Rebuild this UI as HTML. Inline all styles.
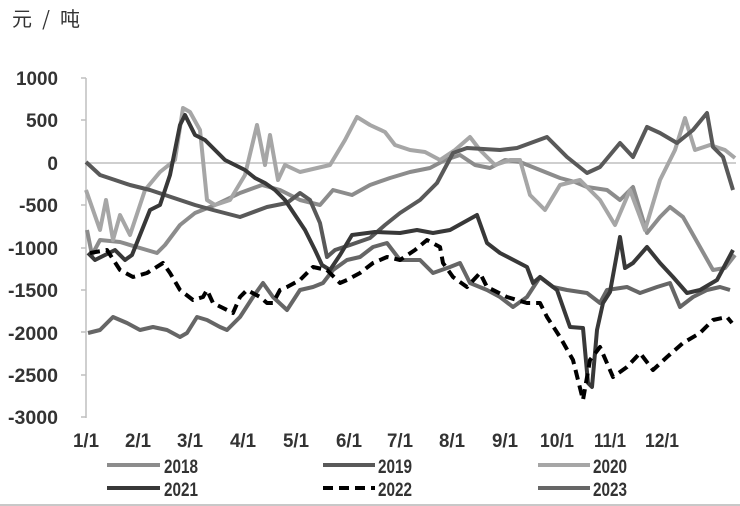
<!DOCTYPE html>
<html><head><meta charset="utf-8"><style>
html,body{margin:0;padding:0;background:#fff;}
svg{display:block;}
text{font-family:"Liberation Sans","Noto Sans CJK SC",sans-serif;fill:#333;font-weight:bold;}
</style></head><body>
<svg width="740" height="506" viewBox="0 0 740 506" xmlns="http://www.w3.org/2000/svg">
<text x="12" y="26" font-size="20" textLength="68" lengthAdjust="spacing" style="font-family:'Noto Sans CJK SC',sans-serif;font-weight:normal">元/吨</text>
<g font-size="19" text-anchor="end">
<text x="58" y="85" textLength="42" lengthAdjust="spacingAndGlyphs">1000</text>
<text x="58" y="127" textLength="32" lengthAdjust="spacingAndGlyphs">500</text>
<text x="58" y="170">0</text>
<text x="58" y="212" textLength="39" lengthAdjust="spacingAndGlyphs">-500</text>
<text x="58" y="255" textLength="50" lengthAdjust="spacingAndGlyphs">-1000</text>
<text x="58" y="297" textLength="50" lengthAdjust="spacingAndGlyphs">-1500</text>
<text x="58" y="340" textLength="50" lengthAdjust="spacingAndGlyphs">-2000</text>
<text x="58" y="382" textLength="50" lengthAdjust="spacingAndGlyphs">-2500</text>
<text x="58" y="424" textLength="50" lengthAdjust="spacingAndGlyphs">-3000</text>
</g>
<line x1="86" y1="78" x2="86" y2="418" stroke="#bfbfbf" stroke-width="1.5"/>
<g stroke="#bfbfbf" stroke-width="1.5">
<line x1="81" y1="78" x2="86" y2="78"/><line x1="81" y1="120" x2="86" y2="120"/><line x1="81" y1="205" x2="86" y2="205"/><line x1="81" y1="248" x2="86" y2="248"/><line x1="81" y1="290" x2="86" y2="290"/><line x1="81" y1="332" x2="86" y2="332"/><line x1="81" y1="375" x2="86" y2="375"/><line x1="81" y1="417" x2="86" y2="417"/>
</g>
<line x1="86" y1="163" x2="736" y2="163" stroke="#bfbfbf" stroke-width="1.5"/>
<g font-size="19" text-anchor="middle">
<text x="86" y="447" textLength="26" lengthAdjust="spacingAndGlyphs">1/1</text>
<text x="138" y="447" textLength="26" lengthAdjust="spacingAndGlyphs">2/1</text>
<text x="190" y="447" textLength="26" lengthAdjust="spacingAndGlyphs">3/1</text>
<text x="243" y="447" textLength="26" lengthAdjust="spacingAndGlyphs">4/1</text>
<text x="296" y="447" textLength="26" lengthAdjust="spacingAndGlyphs">5/1</text>
<text x="349" y="447" textLength="26" lengthAdjust="spacingAndGlyphs">6/1</text>
<text x="400" y="447" textLength="26" lengthAdjust="spacingAndGlyphs">7/1</text>
<text x="452" y="447" textLength="26" lengthAdjust="spacingAndGlyphs">8/1</text>
<text x="505" y="447" textLength="26" lengthAdjust="spacingAndGlyphs">9/1</text>
<text x="557" y="447" textLength="34" lengthAdjust="spacingAndGlyphs">10/1</text>
<text x="610" y="447" textLength="32" lengthAdjust="spacingAndGlyphs">11/1</text>
<text x="662" y="447" textLength="34" lengthAdjust="spacingAndGlyphs">12/1</text>
</g>
<g fill="none" stroke-width="4" stroke-linejoin="round">
<polyline stroke="#8c8c8c" points="87,230 92,255 100,240 120,242 140,248 157,253 165,245 180,225 195,213 215,205 240,193 262,185 280,190 300,200 320,205 333,190 352,195 370,185 390,178 410,172 430,168 445,160 460,155 475,165 490,168 505,160 520,162 540,170 560,178 575,182 587,187 607,190 620,200 633,187 647,233 660,217 670,207 683,217 700,247 713,270 725,268 735,255"/>
<polyline stroke="#a6a6a6" points="86,190 100,230 106,200 113,240 120,215 130,235 145,190 160,172 175,160 183,108 190,112 200,130 207,200 215,205 230,200 245,175 257,125 265,165 270,135 278,180 285,165 300,172 330,165 345,140 357,117 370,125 385,132 395,145 410,150 425,152 440,160 455,150 470,137 480,150 495,165 510,160 520,160 530,195 545,210 560,185 580,180 600,200 615,225 630,190 645,230 660,180 675,150 685,118 695,150 710,145 725,150 735,158"/>
<polyline stroke="#595959" points="86,162 100,175 115,180 130,185 150,190 165,195 180,200 195,205 213,210 240,217 267,207 287,203 300,193 310,200 320,223 327,257 335,250 350,245 370,238 385,225 400,213 420,200 437,183 453,153 467,148 500,150 517,148 547,137 567,157 587,173 600,167 620,143 633,157 647,127 660,133 677,143 693,130 707,113 713,147 723,157 733,190"/>
<polyline stroke="#666666" points="88,333 100,330 113,317 127,323 140,330 153,327 167,330 180,337 187,333 197,317 207,320 220,327 227,330 240,317 253,297 263,283 273,297 287,310 300,290 313,287 323,283 333,270 347,260 360,257 373,247 387,243 400,260 420,260 433,273 450,267 460,263 470,283 487,290 500,297 513,307 527,297 540,277 553,287 567,290 587,293 600,303 607,290 627,287 640,293 657,287 670,283 680,307 693,297 707,290 720,287 730,290"/>
<polyline stroke="#383838" points="88,253 95,260 105,255 115,250 125,260 132,255 140,235 150,210 160,205 170,175 180,125 185,115 190,125 195,135 205,140 215,150 225,160 235,165 245,170 255,178 265,183 275,190 285,200 295,215 305,230 315,250 322,265 330,270 340,255 352,235 375,232 400,233 417,230 433,233 450,230 477,215 487,243 500,253 527,267 533,283 540,277 557,290 570,327 583,328 588,383 592,387 597,330 603,303 610,292 620,237 625,268 633,263 647,247 660,263 673,277 687,293 700,290 717,280 733,250"/>
<polyline stroke="#000" stroke-dasharray="10,6" points="90,253 107,250 120,270 133,277 147,273 163,263 170,273 180,290 193,300 203,297 207,290 213,303 227,310 233,313 240,297 247,290 260,297 267,303 273,303 280,290 287,287 300,280 313,267 327,270 340,283 347,280 360,273 373,263 387,257 400,260 415,250 427,240 440,247 443,263 453,277 467,287 480,273 487,287 507,297 527,303 540,303 547,317 560,337 573,360 583,400 590,360 600,347 613,377 627,367 640,353 653,370 667,357 683,343 700,333 713,320 727,317 732,323"/>
</g>
<g stroke-width="4">
<line x1="107" y1="465" x2="160" y2="465" stroke="#8c8c8c"/>
<line x1="323" y1="465" x2="375" y2="465" stroke="#595959"/>
<line x1="538" y1="465" x2="590" y2="465" stroke="#a6a6a6"/>
<line x1="107" y1="488" x2="160" y2="488" stroke="#383838"/>
<line x1="323" y1="488" x2="375" y2="488" stroke="#000" stroke-dasharray="10,6"/>
<line x1="538" y1="488" x2="590" y2="488" stroke="#666666"/>
</g>
<g font-size="19">
<text x="164" y="473" textLength="34" lengthAdjust="spacingAndGlyphs">2018</text>
<text x="378" y="473" textLength="34" lengthAdjust="spacingAndGlyphs">2019</text>
<text x="593" y="473" textLength="34" lengthAdjust="spacingAndGlyphs">2020</text>
<text x="164" y="496" textLength="34" lengthAdjust="spacingAndGlyphs">2021</text>
<text x="378" y="496" textLength="34" lengthAdjust="spacingAndGlyphs">2022</text>
<text x="593" y="496" textLength="34" lengthAdjust="spacingAndGlyphs">2023</text>
</g>
<line x1="0" y1="505" x2="740" y2="505" stroke="#c8c8c8" stroke-width="2"/>
</svg>
</body></html>
